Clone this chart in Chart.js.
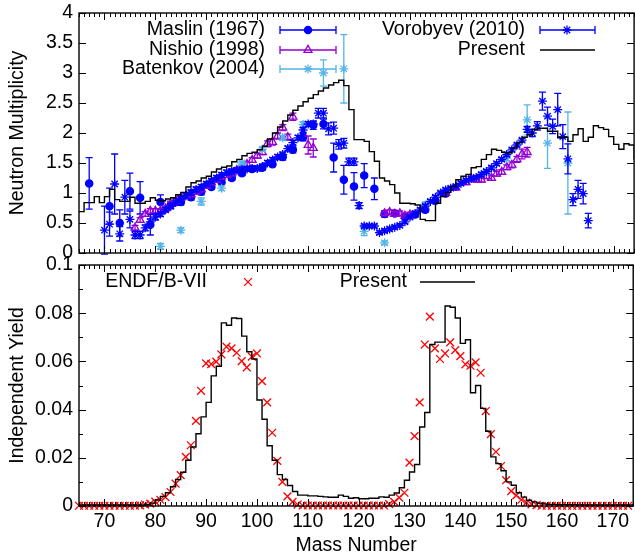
<!DOCTYPE html>
<html>
<head>
<meta charset="utf-8">
<script src="https://cdn.jsdelivr.net/npm/chart.js@4/dist/chart.umd.min.js"></script>
<style>
  html, body { margin: 0; padding: 0; background: #fff; overflow: hidden; }
  #wrap { position: relative; width: 635px; height: 558px; overflow: hidden; }
  canvas { position: absolute; left: 0; }
  #top { top: 0; }
  #bottom { top: 250px; }
</style>
</head>
<body>
<div id="wrap">
  <canvas id="top" width="640" height="262"></canvas>
  <canvas id="bottom" width="640" height="308"></canvas>
</div>
<script>
"use strict";

// axes
let firstMass = 65;
let lastMass = 174;
let massTicks = [70, 80, 90, 100, 110, 120, 130, 140, 150, 160, 170];
let nuTicks = [0, 0.5, 1, 1.5, 2, 2.5, 3, 3.5, 4];
let yieldTicks = [0, 0.02, 0.04, 0.06, 0.08, 0.1];
let yieldMinor = [0.01, 0.03, 0.05, 0.07, 0.09];

// Maslin (1967)
let maslinMass = [67, 71, 73, 75, 77, 79, 81, 83, 85, 87, 89, 91, 93, 95, 97, 99, 101, 103, 105, 107,
    109, 111, 113, 115, 117, 119, 121, 123, 125, 127, 129, 131, 133, 135, 137];
let maslinNu = [1.16, 0.78, 0.50, 1.03, 0.92, 0.47, 0.85, 0.80, 0.85, 0.93, 1.02, 1.10, 1.18, 1.25, 1.33, 1.40, 1.42, 1.48, 1.60, 1.72,
    1.93, 2.13, 2.15, 1.59, 1.22, 1.11, 1.29, 1.07, 0.65, 0.66, 0.61, 0.64, 0.72, 0.87, 0.99];
let maslinErr = [0.43, 0.30, 0.22, 0.30, 0.27, 0.17, 0.12, 0.06, 0.05, 0.05, 0.05, 0.04, 0.04, 0.04, 0.04, 0.04, 0.04, 0.04, 0.05, 0.05,
    0.06, 0.07, 0.08, 0.24, 0.24, 0.23, 0.20, 0.18, 0.05, 0.05, 0.04, 0.04, 0.04, 0.04, 0.04];

// Nishio (1998)
let nishioMass = [76, 77, 78, 79, 80, 81, 82, 83, 84, 85, 86, 87, 88, 89, 90, 91, 92, 93, 94, 95, 96, 97, 98, 99, 100,
    101, 102, 103, 104, 105, 106, 107, 110, 111, 125, 126, 127, 128, 129, 130, 137, 139,
    141, 142, 143, 144, 145, 146, 147, 148, 149, 150, 151, 152, 153];
let nishioNu = [0.42, 0.55, 0.65, 0.70, 0.70, 0.70, 0.74, 0.82, 0.87, 0.92, 0.95, 0.98, 1.02, 1.06, 1.12, 1.18, 1.22, 1.27, 1.30, 1.33, 1.38, 1.42, 1.48, 1.55, 1.62,
    1.68, 1.82, 1.85, 1.95, 2.09, 1.93, 2.27, 1.80, 1.75, 0.66, 0.68, 0.65, 0.66, 0.62, 0.64, 1.00, 1.09,
    1.18, 1.24, 1.22, 1.22, 1.28, 1.25, 1.32, 1.35, 1.43, 1.47, 1.56, 1.65, 1.68];
let nishioErr = [0.04, 0.04, 0.04, 0.04, 0.04, 0.04, 0.04, 0.04, 0.04, 0.04, 0.04, 0.04, 0.04, 0.04, 0.04, 0.04, 0.04, 0.04, 0.04, 0.04, 0.04, 0.04, 0.04, 0.04, 0.04,
    0.04, 0.05, 0.05, 0.05, 0.05, 0.05, 0.06, 0.15, 0.15, 0.04, 0.04, 0.04, 0.04, 0.04, 0.04, 0.04, 0.04,
    0.04, 0.04, 0.04, 0.04, 0.04, 0.04, 0.04, 0.04, 0.04, 0.05, 0.05, 0.08, 0.08];

// Batenkov (2004)
let batenkovMass = [81, 85, 89, 93, 97, 101, 105, 109, 113, 117, 121, 125, 133, 145, 149, 153, 157, 161];
let batenkovNu = [0.11, 0.38, 0.86, 1.08, 1.50, 1.73, 1.92, 2.14, 3.00, 3.07, 0.36, 0.17, 0.80, 1.35, 1.58, 2.22, 1.83, 1.50];
let batenkovErr = [0.05, 0.04, 0.06, 0.04, 0.03, 0.03, 0.04, 0.05, 0.22, 0.57, 0.07, 0.03, 0.05, 0.04, 0.04, 0.25, 0.42, 0.85];

// Vorobyev (2010), masses 70..165
let vorobyevFirst = 70;
let vorobyevNu = [0.38, 0.48, 1.15, 0.32, 0.93, 0.56, 0.30, 0.30, 0.42, 0.52,
    0.60, 0.65, 0.72, 0.78, 0.84, 0.90, 0.96, 1.01, 1.06, 1.10,
    1.15, 1.20, 1.25, 1.30, 1.34, 1.36, 1.38, 1.39, 1.40, 1.41,
    1.41, 1.44, 1.50, 1.55, 1.60, 1.64, 1.74, 1.84, 1.92, 2.05,
    2.15, 2.15, 2.33, 2.33, 2.07, 2.08, 1.81, 1.83, 1.52, 1.52,
    0.79, 0.45, 0.45, 0.45, 0.34, 0.37, 0.40, 0.43, 0.46, 0.52,
    0.60, 0.66, 0.72, 0.78, 0.86, 0.93, 1.00, 1.05, 1.08, 1.11,
    1.16, 1.21, 1.24, 1.26, 1.31, 1.36, 1.42, 1.49, 1.56, 1.64,
    1.72, 1.80, 1.88, 2.06, 2.00, 2.12, 2.53, 2.28, 2.11, 2.39,
    1.94, 1.57, 0.89, 1.06, 0.99, 0.54];
let vorobyevErr = [0.40, 0.20, 0.50, 0.12, 0.28, 0.14, 0.06, 0.06, 0.05, 0.05,
    0.05, 0.04, 0.04, 0.04, 0.04, 0.04, 0.04, 0.04, 0.04, 0.04,
    0.04, 0.04, 0.04, 0.04, 0.04, 0.04, 0.04, 0.04, 0.04, 0.04,
    0.04, 0.04, 0.04, 0.04, 0.04, 0.04, 0.04, 0.04, 0.04, 0.04,
    0.04, 0.04, 0.08, 0.08, 0.10, 0.10, 0.08, 0.08, 0.06, 0.06,
    0.05, 0.03, 0.03, 0.03, 0.03, 0.03, 0.03, 0.03, 0.03, 0.03,
    0.03, 0.03, 0.03, 0.03, 0.03, 0.03, 0.03, 0.03, 0.03, 0.03,
    0.03, 0.03, 0.03, 0.03, 0.03, 0.03, 0.03, 0.03, 0.03, 0.03,
    0.03, 0.03, 0.03, 0.05, 0.06, 0.07, 0.15, 0.15, 0.12, 0.27,
    0.20, 0.25, 0.10, 0.15, 0.17, 0.12];

// Present neutron multiplicity, masses 65..174
let presentNu = [0.69, 0.84, 0.84, 0.94, 0.84, 0.94, 1.06, 0.89, 0.86, 0.86,
    0.93, 0.83, 0.83, 0.86, 0.92, 0.88, 0.87, 0.90, 0.92, 0.97,
    1.01, 1.10, 1.17, 1.20, 1.25, 1.28, 1.35, 1.40, 1.43, 1.45,
    1.52, 1.56, 1.62, 1.66, 1.68, 1.72, 1.78, 1.90, 2.00, 2.10,
    2.20, 2.30, 2.38, 2.45, 2.52, 2.58, 2.64, 2.70, 2.75, 2.80,
    2.84, 2.88, 2.79, 2.39, 1.89, 1.89, 1.86, 1.69, 1.53, 1.25,
    1.20, 1.14, 1.00, 0.83, 0.83, 0.82, 0.80, 0.56, 0.54, 0.54,
    0.83, 0.94, 1.01, 1.11, 1.22, 1.28, 1.31, 1.42, 1.44, 1.56,
    1.64, 1.73, 1.71, 1.68, 1.67, 1.75, 1.84, 1.93, 1.97, 2.06,
    2.08, 2.08, 2.03, 2.03, 1.92, 1.93, 1.86, 1.97, 2.07, 1.86,
    1.93, 2.12, 2.09, 2.06, 1.94, 1.81, 1.73, 1.82, 1.80, 1.56];

// ENDF/B-VII independent yield, masses 65..173
let endfYield = [0.0001, 0.0001, 0.0001, 0.0001, 0.0001, 0.0001, 0.0001, 0.0001, 0.0001, 0.0001,
    0.0001, 0.0001, 0.0003, 0.0006, 0.0010, 0.0018, 0.0026, 0.0037, 0.0058, 0.0093,
    0.0128, 0.0204, 0.0252, 0.0353, 0.0478, 0.0592, 0.0589, 0.0599, 0.0629, 0.0661,
    0.0654, 0.0636, 0.0601, 0.0575, 0.0620, 0.0633, 0.0518, 0.0430, 0.0304, 0.0187,
    0.0100, 0.0040, 0.0017, 0.0006, 0.0002, 0.0002, 0.0002, 0.0002, 0.0002, 0.0002,
    0.0002, 0.0002, 0.0002, 0.0002, 0.0002, 0.0002, 0.0002, 0.0002, 0.0002, 0.0002,
    0.0002, 0.0008, 0.0017, 0.0035, 0.0055, 0.0180, 0.0290, 0.0430, 0.0670, 0.0786,
    0.0654, 0.0610, 0.0633, 0.0679, 0.0647, 0.0622, 0.0588, 0.0582, 0.0596, 0.0553,
    0.0394, 0.0298, 0.0225, 0.0166, 0.0107, 0.0062, 0.0044, 0.0026, 0.0014, 0.0007,
    0.0004, 0.0001, 0.0001, 0.0001, 0.0001, 0.0001, 0.0001, 0.0001, 0.0001, 0.0001,
    0.0001, 0.0001, 0.0001, 0.0001, 0.0001, 0.0001, 0.0001, 0.0001, 0.0001];

// Present independent yield, masses 65..174
let presentYield = [0.0004, 0.0004, 0.0004, 0.0004, 0.0004, 0.0004, 0.0004, 0.0004, 0.0004, 0.0004,
    0.0004, 0.0004, 0.0004, 0.0006, 0.0012, 0.0025, 0.0040, 0.0055, 0.0080, 0.0110,
    0.0140, 0.0190, 0.0245, 0.0300, 0.0370, 0.0430, 0.0540, 0.0580, 0.0760, 0.0750,
    0.0780, 0.0778, 0.0705, 0.0640, 0.0610, 0.0440, 0.0360, 0.0250, 0.0190, 0.0130,
    0.0110, 0.0085, 0.0060, 0.0045, 0.0045, 0.0042, 0.0042, 0.0040, 0.0038, 0.0036,
    0.0036, 0.0045, 0.0040, 0.0032, 0.0034, 0.0030, 0.0030, 0.0032, 0.0032, 0.0038,
    0.0036, 0.0045, 0.0054, 0.0076, 0.0107, 0.0141, 0.0172, 0.0328, 0.0388, 0.0670,
    0.0680, 0.0680, 0.0830, 0.0825, 0.0780, 0.0675, 0.0690, 0.0470, 0.0500, 0.0405,
    0.0310, 0.0204, 0.0176, 0.0146, 0.0100, 0.0086, 0.0055, 0.0037, 0.0024, 0.0017,
    0.0012, 0.0009, 0.0006, 0.0006, 0.0005, 0.0005, 0.0005, 0.0005, 0.0004, 0.0004,
    0.0004, 0.0004, 0.0004, 0.0004, 0.0004, 0.0004, 0.0004, 0.0004, 0.0004, 0.0004];

let blue = "#0000ff";
let violet = "#9400d3";
let skyBlue = "#56b4e9";
let red = "#ff0000";
let fontSize = 19.5;

Chart.defaults.font.family = "'Liberation Sans', Arial, Helvetica, sans-serif";
Chart.defaults.font.size = fontSize;
Chart.defaults.color = "#000";

function points(masses, values) {
    return masses.map((m, i) => ({ x: m, y: values[i] }));
}

function run(first, values) {
    return values.map((v, i) => ({ x: first + i, y: v }));
}

// vertical error bars with caps, drawn under each dataset's markers
let errorBars = {
    id: "errorBars",
    beforeDatasetDraw(chart, args) {
        let ds = chart.data.datasets[args.index];
        if (!ds.errors) return;
        let ctx = chart.ctx;
        let y = chart.scales.y;
        ctx.save();
        ctx.strokeStyle = ds.borderColor;
        ctx.lineWidth = 1.3;
        ctx.beginPath();
        args.meta.data.forEach((pt, i) => {
            let v = ds.data[i].y;
            let top = y.getPixelForValue(v + ds.errors[i]);
            let bot = y.getPixelForValue(v - ds.errors[i]);
            ctx.moveTo(pt.x, top);
            ctx.lineTo(pt.x, bot);
            ctx.moveTo(pt.x - 3.5, top);
            ctx.lineTo(pt.x + 3.5, top);
            ctx.moveTo(pt.x - 3.5, bot);
            ctx.lineTo(pt.x + 3.5, bot);
        });
        ctx.stroke();
        ctx.restore();
    }
};

// gnuplot-like box with inward ticks on all four sides
function makeFrame(yMajor, yMinor) {
    return {
        id: "frame",
        afterDatasetsDraw(chart) {
            let ctx = chart.ctx;
            let a = chart.chartArea;
            let x = chart.scales.x;
            let y = chart.scales.y;
            ctx.save();
            ctx.strokeStyle = "#000";
            ctx.lineWidth = 1;
            ctx.beginPath();
            for (let m = firstMass; m <= lastMass; m++) {
                let px = Math.round(x.getPixelForValue(m)) + 0.5;
                let len = massTicks.includes(m) ? 7 : 4;
                ctx.moveTo(px, a.bottom);
                ctx.lineTo(px, a.bottom - len);
                ctx.moveTo(px, a.top);
                ctx.lineTo(px, a.top + len);
            }
            yMajor.concat(yMinor).forEach(v => {
                let py = Math.round(y.getPixelForValue(v)) + 0.5;
                let len = yMajor.includes(v) ? 7 : 4;
                ctx.moveTo(a.left, py);
                ctx.lineTo(a.left + len, py);
                ctx.moveTo(a.right, py);
                ctx.lineTo(a.right - len, py);
            });
            ctx.stroke();
            ctx.lineWidth = 1.4;
            ctx.strokeRect(a.left, a.top, a.right - a.left, a.bottom - a.top);
            ctx.restore();
        }
    };
}

// key drawn inside the plot, like the original
function makeKey(items) {
    return {
        id: "key",
        afterDraw(chart) {
            let ctx = chart.ctx;
            ctx.save();
            ctx.font = fontSize + "px 'Liberation Sans', Arial, sans-serif";
            ctx.textAlign = "right";
            ctx.textBaseline = "middle";
            items.forEach(it => {
                ctx.fillStyle = "#000";
                ctx.fillText(it.label, it.textRight, it.y);
                ctx.strokeStyle = it.color;
                ctx.lineWidth = it.lineWidth || 1.3;
                if (it.x1 !== undefined) {
                    ctx.beginPath();
                    ctx.moveTo(it.x1, it.y);
                    ctx.lineTo(it.x2, it.y);
                    if (it.caps) {
                        ctx.moveTo(it.x1, it.y - 4);
                        ctx.lineTo(it.x1, it.y + 4);
                        ctx.moveTo(it.x2, it.y - 4);
                        ctx.lineTo(it.x2, it.y + 4);
                    }
                    ctx.stroke();
                }
                if (it.pointStyle) {
                    ctx.fillStyle = it.filled ? it.color : "rgba(0,0,0,0)";
                    ctx.lineWidth = 1.3;
                    Chart.helpers.drawPoint(ctx, { pointStyle: it.pointStyle, radius: it.radius, rotation: 0, borderWidth: 1.3 }, it.mx, it.y);
                }
            });
            ctx.restore();
        }
    };
}

let topKey = [
    { label: "Maslin (1967)", textRight: 265, y: 30, color: blue, x1: 280, x2: 336, caps: true, pointStyle: "circle", radius: 3.6, filled: true, mx: 308 },
    { label: "Nishio (1998)", textRight: 265, y: 50, color: violet, x1: 280, x2: 336, caps: true, pointStyle: "triangle", radius: 4.6, mx: 308 },
    { label: "Batenkov (2004)", textRight: 265, y: 69, color: skyBlue, x1: 280, x2: 336, caps: true, pointStyle: "star", radius: 4.5, mx: 308 },
    { label: "Vorobyev (2010)", textRight: 525, y: 30, color: blue, x1: 540, x2: 595, caps: true, pointStyle: "star", radius: 4.5, mx: 567 },
    { label: "Present", textRight: 525, y: 50, color: "#000", x1: 540, x2: 595, lineWidth: 1.4 }
];

let bottomKey = [
    { label: "ENDF/B-VII", textRight: 207, y: 32, color: red, pointStyle: "crossRot", radius: 5.5, mx: 248 },
    { label: "Present", textRight: 407, y: 32, color: "#000", x1: 420, x2: 475, lineWidth: 1.4 }
];

function scatterSet(label, data, errors, color, style, radius, filled, order) {
    return {
        label: label,
        data: data,
        errors: errors,
        showLine: false,
        borderColor: color,
        pointBorderColor: color,
        pointBackgroundColor: filled ? color : "rgba(0,0,0,0)",
        pointStyle: style,
        pointRadius: radius,
        pointBorderWidth: 1.3,
        clip: false,
        order: order
    };
}

function yAxis(title, min, max, ticks) {
    return {
        type: "linear",
        min: min,
        max: max,
        afterBuildTicks: s => { s.ticks = ticks.map(v => ({ value: v })); },
        ticks: { padding: 6, callback: v => String(v) },
        grid: { display: false, drawTicks: false },
        border: { display: false },
        title: { display: true, text: title, padding: { top: 6, bottom: 0 } },
        afterFit: s => { s.width = 79; s.paddingTop = 0; s.paddingBottom = 0; }
    };
}

new Chart(document.getElementById("top"), {
    type: "line",
    data: {
        datasets: [
            { label: "Present", data: run(firstMass, presentNu), borderColor: "#000", borderWidth: 1.4, pointRadius: 0, stepped: "before", order: 0 },
            scatterSet("Vorobyev (2010)", run(vorobyevFirst, vorobyevNu), vorobyevErr, blue, "star", 4.5, false, 1),
            scatterSet("Batenkov (2004)", points(batenkovMass, batenkovNu), batenkovErr, skyBlue, "star", 4.5, false, 2),
            scatterSet("Nishio (1998)", points(nishioMass, nishioNu), nishioErr, violet, "triangle", 4.6, false, 3),
            scatterSet("Maslin (1967)", points(maslinMass, maslinNu), maslinErr, blue, "circle", 3.6, true, 4)
        ]
    },
    options: {
        responsive: false,
        animation: false,
        events: [],
        layout: { padding: { top: 13, right: 4, bottom: 9, left: 0 } },
        plugins: { legend: { display: false }, tooltip: { enabled: false } },
        scales: {
            x: {
                type: "linear",
                min: firstMass,
                max: lastMass,
                ticks: { display: false },
                grid: { display: false, drawTicks: false },
                border: { display: false },
                afterFit: s => { s.height = 0; s.paddingLeft = 0; s.paddingRight = 0; }
            },
            y: yAxis("Neutron Multiplicity", 0, 4, nuTicks)
        }
    },
    plugins: [errorBars, makeFrame(nuTicks, []), makeKey(topKey)]
});

new Chart(document.getElementById("bottom"), {
    type: "line",
    data: {
        datasets: [
            { label: "Present", data: run(firstMass, presentYield), borderColor: "#000", borderWidth: 1.4, pointRadius: 0, stepped: "before", order: 0 },
            scatterSet("ENDF/B-VII", run(firstMass, endfYield), null, red, "crossRot", 5.5, false, 1)
        ]
    },
    options: {
        responsive: false,
        animation: false,
        events: [],
        layout: { padding: { top: 15, right: 4, bottom: 0, left: 0 } },
        plugins: { legend: { display: false }, tooltip: { enabled: false } },
        scales: {
            x: {
                type: "linear",
                min: firstMass,
                max: lastMass,
                afterBuildTicks: s => { s.ticks = massTicks.map(v => ({ value: v })); },
                ticks: { padding: 4, maxRotation: 0, autoSkip: false, callback: v => String(v) },
                grid: { display: false, drawTicks: false },
                border: { display: false },
                title: { display: true, text: "Mass Number", padding: { top: 0, bottom: 1 } },
                afterFit: s => { s.height = 52; s.paddingLeft = 0; s.paddingRight = 0; }
            },
            y: yAxis("Independent Yield", 0, 0.1, yieldTicks)
        }
    },
    plugins: [errorBars, makeFrame(yieldTicks, yieldMinor), makeKey(bottomKey)]
});
</script>
</body>
</html>
